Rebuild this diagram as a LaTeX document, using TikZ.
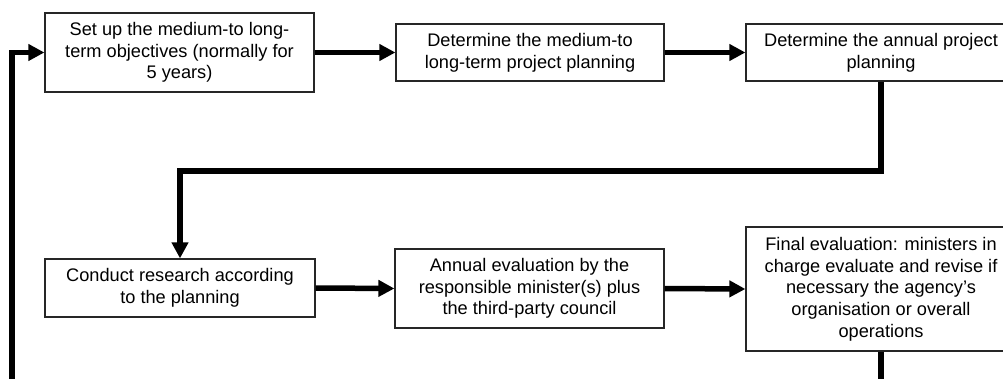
\documentclass[tikz,border=0pt]{standalone}
\usepackage{fontspec}
\setmainfont{Liberation Sans}
\usetikzlibrary{arrows.meta}
\begin{document}
\begin{tikzpicture}[x=1pt,y=-1pt,
  box/.style={draw=black!85,line width=1.2pt,fill=white,align=center,inner sep=0pt,
    font=\fontsize{18.2}{21.7}\selectfont},
  conn/.style={line width=5.5pt,-{Triangle[length=16pt,width=16pt]}},
  plain/.style={line width=5.5pt}]
\useasboundingbox (0,0) rectangle (1003,379);
\clip (0,0) rectangle (1003,379);
\node[box,minimum width=269pt,minimum height=79pt] (b1) at (179.5,52.5)
  {Set up the medium-to long-\\term objectives (normally for\\5 years)};
\node[box,minimum width=268pt,minimum height=57pt] (b2) at (530,52.5)
  {Determine the medium-to\\long-term project planning};
\node[box,minimum width=270pt,minimum height=57pt] (b3) at (881,52.5)
  {Determine the annual project\\planning};
\node[box,minimum width=270pt,minimum height=58pt] (b4) at (180,288)
  {Conduct research according\\to the planning};
\node[box,minimum width=269pt,minimum height=79pt] (b5) at (529.5,288.5)
  {Annual evaluation by the\\responsible minister(s) plus\\the third-party council};
\node[box,minimum width=270pt,minimum height=124pt] (b6) at (881,289)
  {Final evaluation: ministers in\\charge evaluate and revise if\\necessary the agency’s\\organisation or overall\\operations};
\coordinate (k1) at (180,171);
\coordinate (e1) at (881,390);
\coordinate (e2) at (12,390);
\draw[conn] (b1.east) -- (b2.west);
\draw[conn] (b2.east) -- (b3.west);
\draw[conn] (b3.south) |- (k1) -- (b4.north);
\draw[conn] (b4.east) -- (b5.west);
\draw[conn] (b5.east) -- (b6.west);
\draw[plain] (b6.south) -- (e1);
\draw[conn] (e2) |- (b1.west);
\end{tikzpicture}
\end{document}
